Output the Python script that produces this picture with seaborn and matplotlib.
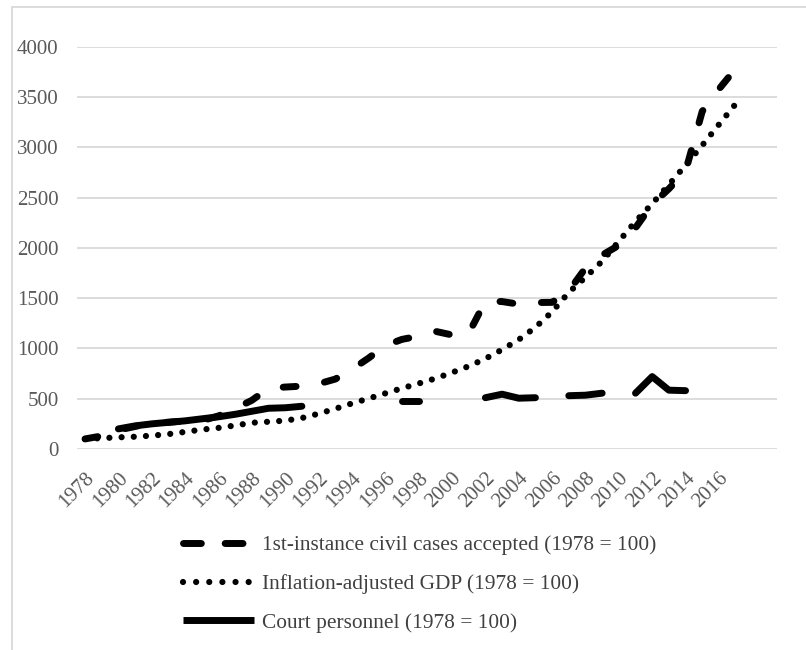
import numpy as np
import pandas as pd
import matplotlib
matplotlib.use("Agg")
import matplotlib.pyplot as plt
from matplotlib.lines import Line2D
from matplotlib.patches import Rectangle
import seaborn as sns

# ---------------- data (index, 1978 = 100) ----------------
years = list(range(1978, 2018))
civil_cases = [100, 130, 188, 224, 259, 266, 279, 281, 329, 403,
               484, 604, 616, 625, 648, 695, 792, 904, 1029, 1090,
               1122, 1170, 1134, 1150, 1469, 1466, 1440, 1456, 1458, 1571,
               1799, 1928, 2025, 2199, 2432, 2587, 2762, 3357, 3578, 3781]
gdp_real = [100, 108, 116, 122, 133, 148, 170, 193, 210, 234,
            261, 271, 282, 308, 351, 400, 453, 502, 553, 604,
            651, 701, 760, 823, 898, 988, 1087, 1210, 1364, 1557,
            1707, 1867, 2065, 2262, 2439, 2628, 2822, 3019, 3226, 3430]
nan = np.nan
court_personnel = [100, nan, 200, 230, 250, 265, 280, 300, 320, 345,
                   375, 405, 410, 425, nan, nan, nan, nan, nan, 480,
                   480, nan, nan, nan, 510, 545, 505, 510, nan, 530,
                   535, 555, nan, 555, 720, 585, 580, nan, nan, nan]
labels = ["1st-instance civil cases accepted (1978 = 100)",
          "Inflation-adjusted GDP (1978 = 100)",
          "Court personnel (1978 = 100)"]
xtick_years = list(range(1978, 2017, 2))
ytick_vals = list(range(0, 4001, 500))

df = pd.DataFrame({"year": years, "civil": civil_cases,
                   "gdp": gdp_real, "court": court_personnel})

# ---------------- style ----------------
sns.set_theme(style="white")
plt.rcParams["font.family"] = ["Liberation Serif", "DejaVu Serif"]

W, H = 806, 650
fig = plt.figure(figsize=(W / 100, H / 100), dpi=100)
ax = fig.add_axes([76.7 / W, 1 - 449 / H, (777.3 - 76.7) / W, (449 - 46.7) / H])

LW_DASH = 5.0
LW_DOT = 4.5

# civil cases: long dashes
sns.lineplot(data=df, x="year", y="civil", ax=ax, color="black",
             lw=LW_DASH, estimator=None, sort=False)
ln = ax.lines[-1]
ln.set_dashes((1.86, 4.14))
ln.set_dash_capstyle("round")

# GDP: round dots
sns.lineplot(data=df, x="year", y="gdp", ax=ax, color="black",
             lw=LW_DOT, estimator=None, sort=False)
ln = ax.lines[-1]
ln.set_dashes((0.001, 1.95))
ln.set_dash_capstyle("round")

# court personnel: solid, with gaps where data is missing
vals = df["court"].to_numpy()
valid = ~np.isnan(vals)
start = None
for i in range(len(vals) + 1):
    ok = i < len(vals) and valid[i]
    if ok and start is None:
        start = i
    elif not ok and start is not None:
        if i - start >= 2:
            seg = df.iloc[start:i]
            sns.lineplot(data=seg, x="year", y="court", ax=ax, color="black",
                         lw=LW_DASH, estimator=None, sort=False)
            ax.lines[-1].set_solid_capstyle("round")
            ax.lines[-1].set_solid_joinstyle("round")
        start = None

ax.set_xlim(1977.5, 2019.5)
ax.set_ylim(0, 4000)
ax.set_yticks(ytick_vals)
ax.set_yticklabels([str(v) for v in ytick_vals])
ax.set_xticks(xtick_years)
ax.set_xticklabels([str(y) for y in xtick_years], rotation=45,
                   ha="right", va="top", rotation_mode="anchor")
ax.set_xlabel("")
ax.set_ylabel("")
ax.yaxis.grid(True, color="#d9d9d9", lw=1.3)
ax.xaxis.grid(False)
ax.set_axisbelow(True)
for s in ax.spines.values():
    s.set_visible(False)
ax.tick_params(axis="y", length=0, pad=13, labelsize=15, labelcolor="#595959")
ax.tick_params(axis="x", length=0, pad=14, labelsize=15, labelcolor="#595959")
if ax.get_legend() is not None:
    ax.get_legend().remove()

# legend
handles = [
    Line2D([], [], color="black", lw=LW_DASH, dashes=(2.57, 3.43),
           dash_capstyle="round"),
    Line2D([], [], color="black", lw=LW_DOT, dashes=(0.001, 2.1),
           dash_capstyle="round"),
    Line2D([], [], color="black", lw=LW_DASH, solid_capstyle="butt"),
]
leg = fig.legend(handles, labels, loc="center", bbox_to_anchor=(0.521, 0.1015),
                 frameon=False, fontsize=15.4, handlelength=3.3,
                 handletextpad=0.37, labelspacing=0.88)
for t in leg.get_texts():
    t.set_color("#404040")

# chart border
fig.add_artist(Rectangle((12 / W, -0.02), 1.0, 1 - 7 / H + 0.02,
                         transform=fig.transFigure, fill=False,
                         edgecolor="#d9d9d9", lw=1.3))

fig.savefig("out.png", dpi=100)
